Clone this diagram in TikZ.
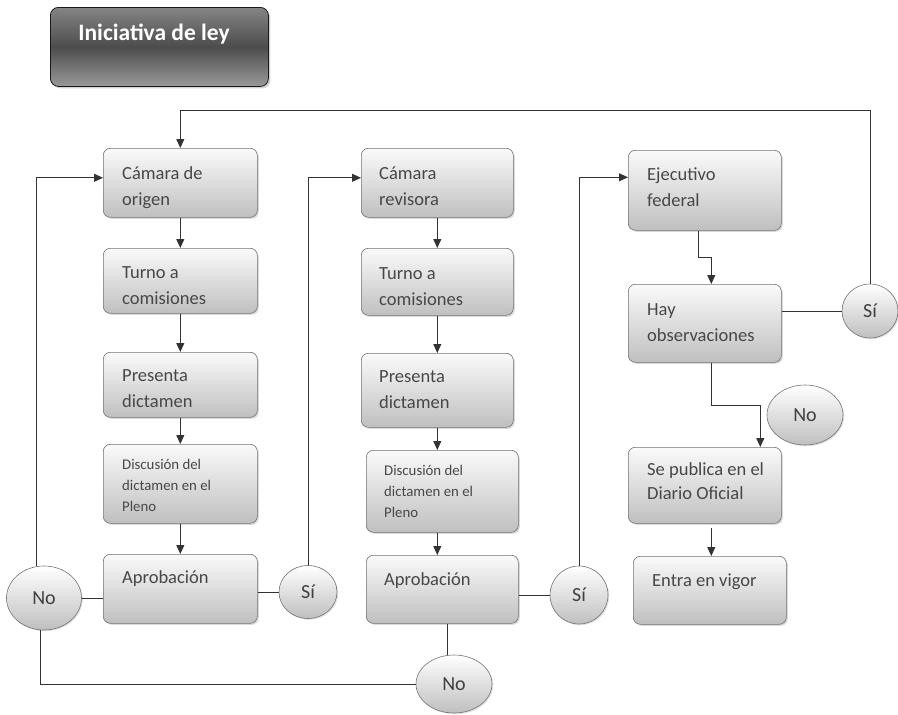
\documentclass[tikz,border=0pt]{standalone}
\usepackage{fontspec}
\setmainfont{Carlito}
\usetikzlibrary{arrows.meta,shapes.geometric,shadows,calc}
\begin{document}
\begin{tikzpicture}[x=1pt,y=-1pt,
  box/.style={draw=black!55, line width=0.6pt, rounded corners=7pt, top color=black!2, bottom color=black!25, anchor=north west, inner sep=0pt, drop shadow={shadow xshift=1.5pt, shadow yshift=-1.5pt, opacity=0.3}},
  titlebox/.style={draw=black!90, line width=0.8pt, rounded corners=8pt, top color=black!48, bottom color=black!40, middle color=black!70, anchor=north west, inner sep=0pt, drop shadow={shadow xshift=2pt, shadow yshift=-2pt, opacity=0.35}},
  oval/.style={ellipse, draw=black!55, line width=0.6pt, top color=white, bottom color=black!25, font=\fontsize{20}{24}\selectfont, text=black!75, inner sep=0pt, drop shadow={shadow xshift=1.2pt, shadow yshift=-1.2pt, opacity=0.25}},
  lbl/.style={anchor=base west, align=left, inner sep=0pt, text=black!72, font=\fontsize{18.5}{26}\selectfont},
  small/.style={lbl, font=\fontsize{14.8}{21}\selectfont},
  pub/.style={lbl, font=\fontsize{18.5}{24}\selectfont},
  line/.style={draw=black!80, line width=0.9pt},
  arr/.style={line, -{Triangle[width=8pt,length=9pt]}}
]
\useasboundingbox (0,0) rectangle (898,715);

% title
\node[titlebox, minimum width=218pt, minimum height=79pt] (title) at (50,7) {};
\node[anchor=base, inner sep=0pt, text=white, font=\fontsize{23.5}{28}\selectfont\bfseries] (titletext) at (154,40) {Iniciativa de ley};

% column 1
\node[box, minimum width=154pt, minimum height=69pt] (c1a) at (103,148) {};
\node[box, minimum width=154pt, minimum height=65pt] (c1b) at (103,248) {};
\node[box, minimum width=154pt, minimum height=65pt] (c1c) at (103,352) {};
\node[box, minimum width=154pt, minimum height=79pt] (c1d) at (103,444) {};
\node[box, minimum width=154pt, minimum height=69pt] (c1e) at (103,554) {};
\node[lbl] (t1a) at (122,205) {Cámara de\\origen};
\node[lbl] (t1b) at (122,304) {Turno a\\comisiones};
\node[lbl] (t1c) at (122,407) {Presenta\\dictamen};
\node[small] (t1d) at (122,511) {Discusión del\\dictamen en el\\Pleno};
\node[lbl] (t1e) at (122,583) {Aprobación};

% column 2
\node[box, minimum width=152pt, minimum height=69pt] (c2a) at (361,148) {};
\node[box, minimum width=152pt, minimum height=67pt] (c2b) at (361,248) {};
\node[box, minimum width=152pt, minimum height=74pt] (c2c) at (361,353) {};
\node[box, minimum width=152pt, minimum height=82pt] (c2d) at (366,450) {};
\node[box, minimum width=152pt, minimum height=68pt] (c2e) at (366,555) {};
\node[lbl] (t2a) at (379,205) {Cámara\\revisora};
\node[lbl] (t2b) at (379,305) {Turno a\\comisiones};
\node[lbl] (t2c) at (379,408) {Presenta\\dictamen};
\node[small] (t2d) at (384,517) {Discusión del\\dictamen en el\\Pleno};
\node[lbl] (t2e) at (384,585) {Aprobación};

% column 3
\node[box, minimum width=153pt, minimum height=80pt] (c3a) at (628,150) {};
\node[box, minimum width=153pt, minimum height=78pt] (c3b) at (628,284) {};
\node[box, minimum width=153pt, minimum height=76pt] (c3c) at (628,447) {};
\node[box, minimum width=153pt, minimum height=68pt] (c3d) at (633,556) {};
\node[lbl] (t3a) at (647,206) {Ejecutivo\\federal};
\node[lbl] (t3b) at (647,341) {Hay\\observaciones};
\node[pub] (t3c) at (647,499) {Se publica en el\\Diario Oficial};
\node[lbl] (t3d) at (652,586) {Entra en vigor};

% decision ovals
\node[oval, minimum width=75pt, minimum height=64pt] (n1) at (44,598) {No};
\node[oval, minimum width=58pt, minimum height=53pt] (s1) at (308,592) {Sí};
\node[oval, minimum width=76pt, minimum height=58pt] (n2) at (454,684) {No};
\node[oval, minimum width=58pt, minimum height=58pt] (s2) at (579,595) {Sí};
\node[oval, minimum width=56pt, minimum height=54pt] (s3) at (870,311) {Sí};
\node[oval, minimum width=76pt, minimum height=60pt] (n3) at (805,415) {No};

% vertical flow arrows
\draw[arr] (c1a.south) -- (c1b.north);
\draw[arr] (c1b.south) -- (c1c.north);
\draw[arr] (c1c.south) -- (c1d.north);
\draw[arr] (c1d.south) -- (c1e.north);
\draw[arr] (c2a.south) -- (c2b.north);
\draw[arr] (c2b.south) -- (c2c.north);
\draw[arr] (c2c.south) -- (c2c.south |- c2d.north);
\draw[arr] (c2c.south |- c2d.south) -- (c2c.south |- c2e.north);
\draw[arr] ([xshift=-6.5pt]c3a.south) -- ++(0,27) -| ([xshift=6.5pt]c3b.north);
\draw[arr] ([xshift=6.5pt]c3b.south) -- ++(0,43) -| ([xshift=55.5pt]c3c.north);
\draw[arr] ([xshift=6.5pt,yshift=-4pt]c3c.south) -- ([xshift=6.5pt]c3c.south |- c3d.north);

% decisions
\draw[line] (n1.east) -- (n1.east -| c1e.west);
\draw[line] (c1e.east |- s1) -- (s1.west);
\draw[arr] (s1.north) |- ([yshift=5pt]c2a.west);
\draw[arr] (n1.104) |- ([yshift=5pt]c1a.west);
\draw[line] (n1.-96) |- (n2.west);
\draw[line] (n2.102 |- c2e.south) -- (n2.102);
\draw[line] (c2e.east |- s2) -- (s2.west);
\draw[arr] (s2.north) |- ([yshift=13pt]c3a.west);
\draw[line] (s3.west) -- (s3.west -| c3b.east);
\coordinate (topline) at (0,110);
\draw[arr] (s3.north) -- (s3.north |- topline) -| (c1a.north);
\end{tikzpicture}
\end{document}
